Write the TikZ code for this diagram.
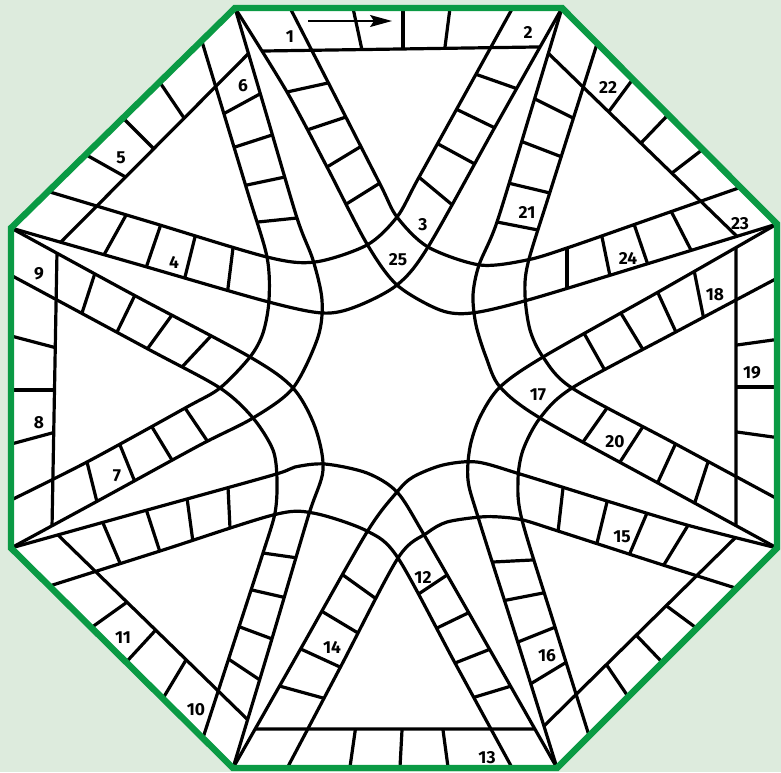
\documentclass[tikz,border=0pt]{standalone}
\usepackage{fontspec}
\setsansfont{Fira Sans}
\usetikzlibrary{arrows.meta,intersections}
\definecolor{boardgreen}{HTML}{0A9A44}
\definecolor{softgreen}{HTML}{DDEBDD}
\newcommand{\meet}[4]{%
  \path[name path=probe] #2 -- #3;
  \path[name intersections={of=#1 and probe, by=#4}];}

\begin{document}
\begin{tikzpicture}[x=0.5pt,y=-0.5pt,line join=round]
  \tikzset{trk/.style={line width=1.6pt},
    rung/.style={trk, shorten <=-5pt, shorten >=-5pt},
    num/.style={font=\sffamily\bfseries\fontsize{8.7}{10}\selectfont, inner sep=0pt}}
  \useasboundingbox (0,0) rectangle (781,772);
  \fill[softgreen] (0,0) rectangle (781,772);
  \coordinate (A) at (235,8);   \coordinate (B) at (562,8);
  \coordinate (C) at (777,224); \coordinate (D) at (777,548);
  \coordinate (E) at (557,768); \coordinate (F) at (233,768);
  \coordinate (G) at (11,548);  \coordinate (H) at (11,228);
  \fill[white] (A) -- (B) -- (C) -- (D) -- (E) -- (F) -- (G) -- (H) -- cycle;

  \path[save path=\pAC, name path=AC]
    plot[smooth] coordinates {(235,8) (287,92) (327,167) (367,244) (397,285) (440,310) (472,313) (528,300) (650,263) (777,224)}
    -- plot[smooth] coordinates {(750,184) (650,219) (567,248) (527,260) (480,265) (428,247) (397,217) (380,184) (330,86) (286,0)} -- cycle;
  \path[save path=\pBH, name path=BH]
    plot[smooth] coordinates {(562,8) (495,127) (428,247) (397,285) (355,307) (322,313) (265,301) (140,265) (11,228)}
    -- plot[smooth] coordinates {(40,189) (150,222) (267,257) (315,262) (367,245) (397,217) (418,179) (470,85) (517,0)} -- cycle;
  \path[save path=\pAG, name path=AG]
    plot[smooth] coordinates {(235,8) (266,113) (297,218) (313,260) (322,300) (318,337) (293,388) (253,418) (200,445) (105,497) (11,548)}
    -- plot[smooth] coordinates {(5,503) (87,462) (187,407) (220,388) (250,357) (263,333) (269,300) (267,257) (247,190) (200,35)} -- cycle;
  \path[save path=\pHF, name path=HF]
    plot[smooth] coordinates {(11,228) (130,293) (250,357) (293,388) (315,427) (323,470) (308,517) (271,642) (233,768)}
    -- plot[smooth] coordinates {(200,747) (239,627) (263,553) (275,513) (277,480) (273,450) (253,418) (220,388) (148,349) (5,272)} -- cycle;
  \path[save path=\pEG, name path=EG]
    plot[smooth] coordinates {(557,768) (490,650) (423,533) (397,492) (367,473) (325,464) (295,467) (273,475) (140,512) (11,548)}
    -- plot[smooth] coordinates {(40,589) (160,551) (273,515) (313,513) (367,531) (398,558) (455,663) (516,775)} -- cycle;
  \path[save path=\pFD, name path=FD]
    plot[smooth] coordinates {(233,768) (300,650) (367,532) (397,492) (413,477) (443,465) (477,462) (520,474) (607,501) (687,525) (777,548)}
    -- plot[smooth] coordinates {(745,591) (663,565) (558,531) (523,520) (500,517) (480,517) (447,522) (427,533) (398,558) (341,666) (283,776)} -- cycle;
  \path[save path=\pCE, name path=CE]
    plot[smooth] coordinates {(777,224) (660,291) (543,357) (500,387) (480,417) (470,447) (468,480) (478,517) (518,643) (557,768)}
    -- plot[smooth] coordinates {(592,745) (555,627) (522,520) (518,480) (523,450) (540,418) (572,388) (672,334) (785,274)} -- cycle;
  \path[save path=\pDB, name path=DB]
    plot[smooth] coordinates {(777,548) (658,483) (540,418) (500,387) (486,357) (476,325) (473,295) (479,265) (497,222) (530,114) (562,8)}
    -- plot[smooth] coordinates {(603,25) (550,192) (528,263) (525,295) (530,330) (543,357) (572,388) (672,442) (785,503)} -- cycle;

  \meet{AC}{(250,51.2)}{(275,50.8)}{T1}   \meet{BH}{(525,47.2)}{(550,46.8)}{T2}
  \meet{CE}{(736,240)}{(736,266)}{R1}     \meet{DB}{(736,510)}{(736,536)}{R2}
  \meet{FD}{(247,729)}{(273,729)}{B1}     \meet{EG}{(520,729)}{(546,729)}{B2}
  \meet{HF}{(57.2,240)}{(56.8,266)}{L1}   \meet{AG}{(52.2,514)}{(51.8,540)}{L2}
  \meet{AG}{(256,46)}{(238,64)}{H1}       \meet{BH}{(72,231)}{(54,249)}{H2}
  \meet{DB}{(541,46)}{(559,64)}{C1}       \meet{AC}{(718,218)}{(748,247)}{C2}
  \meet{FD}{(742,531)}{(724,549)}{D1}     \meet{CE}{(554,716)}{(536,734)}{D2}
  \meet{EG}{(51,528)}{(69,546)}{G1}       \meet{HF}{(238,710)}{(259,731)}{G2}

  \begin{scope}
    \clip (A) -- (B) -- (C) -- (D) -- (E) -- (F) -- (G) -- (H) -- cycle;
    \draw[trk, use path=\pAC];
    \draw[trk, use path=\pBH];
    \draw[trk, use path=\pAG];
    \draw[trk, use path=\pHF];
    \draw[trk, use path=\pEG];
    \draw[trk, use path=\pFD];
    \draw[trk, use path=\pCE];
    \draw[trk, use path=\pDB];
    \draw[trk] (T1) -- (T2);
    \draw[trk] (R1) -- (R2);
    \draw[trk] (B1) -- (B2);
    \draw[trk] (L1) -- (L2);
    \draw[trk] (H1) -- (H2);
    \draw[trk] (C1) -- (C2);
    \draw[trk] (D1) -- (D2);
    \draw[trk] (G1) -- (G2);

    \begin{scope}
      \clip[use path=\pAC];
      \foreach \xa/\ya/\xb/\yb in {287/92/328/83, 307/130/343/118, 327/167/360/147, 348/203/380/183,
          567/248/567/288, 602/237/610/276, 635/227/648/265, 672/213/692/252}
        \draw[rung] (\xa,\ya) -- (\xb,\yb);
    \end{scope}
    \begin{scope}
      \clip[use path=\pBH];
      \foreach \xa/\ya/\xb/\yb in {478/75/515/88, 458/110/493/127, 440/145/473/163, 420/178/450/203,
          125/217/105/253, 160/227/147/265, 195/237/185/277, 233/248/228/288}
        \draw[rung] (\xa,\ya) -- (\xb,\yb);
    \end{scope}
    \begin{scope}
      \clip[use path=\pAG];
      \foreach \xa/\ya/\xb/\yb in {225/113/258/95, 235/147/272/135, 247/185/285/177, 258/222/297/218,
          87/462/97/502, 120/445/135/482, 152/427/172/460, 185/408/208/442}
        \draw[rung] (\xa,\ya) -- (\xb,\yb);
    \end{scope}
    \begin{scope}
      \clip[use path=\pHF];
      \foreach \xa/\ya/\xb/\yb in {95/273/82/313, 135/295/117/332, 172/315/148/348, 210/337/182/367,
          263/553/298/558, 252/590/287/598, 240/627/275/640, 230/660/263/682}
        \draw[rung] (\xa,\ya) -- (\xb,\yb);
    \end{scope}
    \begin{scope}
      \clip[use path=\pEG];
      \foreach \xa/\ya/\xb/\yb in {417/595/447/575, 437/628/468/613, 455/663/488/650, 475/697/508/687,
          103/523/120/563, 147/512/160/552, 187/498/193/542, 228/487/230/528}
        \draw[rung] (\xa,\ya) -- (\xb,\yb);
    \end{scope}
    \begin{scope}
      \clip[use path=\pFD];
      \foreach \xa/\ya/\xb/\yb in {283/687/323/698, 303/650/340/667, 323/612/358/633, 343/575/375/598,
          563/488/558/532, 607/502/597/543, 647/513/630/553, 687/527/665/563}
        \draw[rung] (\xa,\ya) -- (\xb,\yb);
    \end{scope}
    \begin{scope}
      \clip[use path=\pCE];
      \foreach \xa/\ya/\xb/\yb in {695/275/703/315, 658/293/675/330, 622/315/642/348, 585/335/603/367,
          493/562/532/560, 507/600/543/593, 518/642/553/628, 532/683/565/663}
        \draw[rung] (\xa,\ya) -- (\xb,\yb);
    \end{scope}
    \begin{scope}
      \clip[use path=\pDB];
      \foreach \xa/\ya/\xb/\yb in {607/408/583/442, 642/428/620/462, 675/445/658/482, 708/462/695/502,
          537/100/573/118, 523/142/562/157, 508/183/550/193, 497/222/538/230}
        \draw[rung] (\xa,\ya) -- (\xb,\yb);
    \end{scope}

    \begin{scope}
      \clip (-300,59) -- (1100,39) -- (1100,-300) -- (-300,-300) -- cycle;
      \foreach \xa/\ya/\xb/\yb in {353/8/362/50, 403/8/403/47, 450/8/445/47}
        \draw[rung] (\xa,\ya) -- (\xb,\yb);
    \end{scope}
    \begin{scope}
      \clip (736,-300) -- (736,1100) -- (1100,1100) -- (1100,-300) -- cycle;
      \foreach \xa/\ya/\xb/\yb in {737/345/773/340, 737/387/773/387, 737/432/773/437}
        \draw[rung] (\xa,\ya) -- (\xb,\yb);
    \end{scope}
    \begin{scope}
      \clip (-300,729) -- (1100,729) -- (1100,1100) -- (-300,1100) -- cycle;
      \foreach \xa/\ya/\xb/\yb in {355/732/350/767, 402/730/400/767, 443/730/448/767}
        \draw[rung] (\xa,\ya) -- (\xb,\yb);
    \end{scope}
    \begin{scope}
      \clip (67,-300) -- (41.5,1100) -- (-300,1100) -- (-300,-300) -- cycle;
      \foreach \xa/\ya/\xb/\yb in {15/337/53/347, 15/390/52/390, 15/443/52/433}
        \draw[rung] (\xa,\ya) -- (\xb,\yb);
    \end{scope}
    \begin{scope}
      \clip (799,-500) -- (-489,795) -- (-500,-500) -- cycle;
      \foreach \xa/\ya/\xb/\yb in {163/87/182/115, 127/122/152/147, 90/157/122/175}
        \draw[rung] (\xa,\ya) -- (\xb,\yb);
    \end{scope}
    \begin{scope}
      \clip (10,-470) -- (1270,755) -- (1300,-500) -- cycle;
      \foreach \xa/\ya/\xb/\yb in {630/83/610/110, 665/118/642/142, 698/153/672/173}
        \draw[rung] (\xa,\ya) -- (\xb,\yb);
    \end{scope}
    \begin{scope}
      \clip (1297,-15) -- (-19,1280) -- (1300,1300) -- cycle;
      \foreach \xa/\ya/\xb/\yb in {668/607/695/627, 638/637/660/660, 608/667/627/695}
        \draw[rung] (\xa,\ya) -- (\xb,\yb);
    \end{scope}
    \begin{scope}
      \clip (-510,-18) -- (820,1277) -- (-500,1300) -- cycle;
      \foreach \xa/\ya/\xb/\yb in {123/605/95/625, 153/633/130/658, 183/665/165/695}
        \draw[rung] (\xa,\ya) -- (\xb,\yb);
    \end{scope}
  \end{scope}

  \draw[boardgreen, line width=3.2pt, line join=miter] (A) -- (B) -- (C) -- (D) -- (E) -- (F) -- (G) -- (H) -- cycle;

  \foreach \x/\y/\t in {290/37/1, 528/32/2, 423/225/3, 174/262/4, 121/158/5, 243/86/6, 117/476/7,
      39/423/8, 39/274/9, 196/710/10, 123/638/11, 423/577/12, 487/758/13, 332/647/14, 622/537/15,
      547/656/16, 538/395/17, 715/295/18, 752/373/19, 615/442/20, 527/212/21, 608/87/22,
      740/224/23, 628/258/24, 398/260/25}
    \node[num] (n\t) at (\x,\y) {\t};

  \coordinate (go) at (308,21);
  \coordinate (gone) at (392,21);
  \draw[line width=0.85pt, -{Stealth[length=11pt, width=6pt, inset=2pt]}] (go) -- (gone);
\end{tikzpicture}
\end{document}
